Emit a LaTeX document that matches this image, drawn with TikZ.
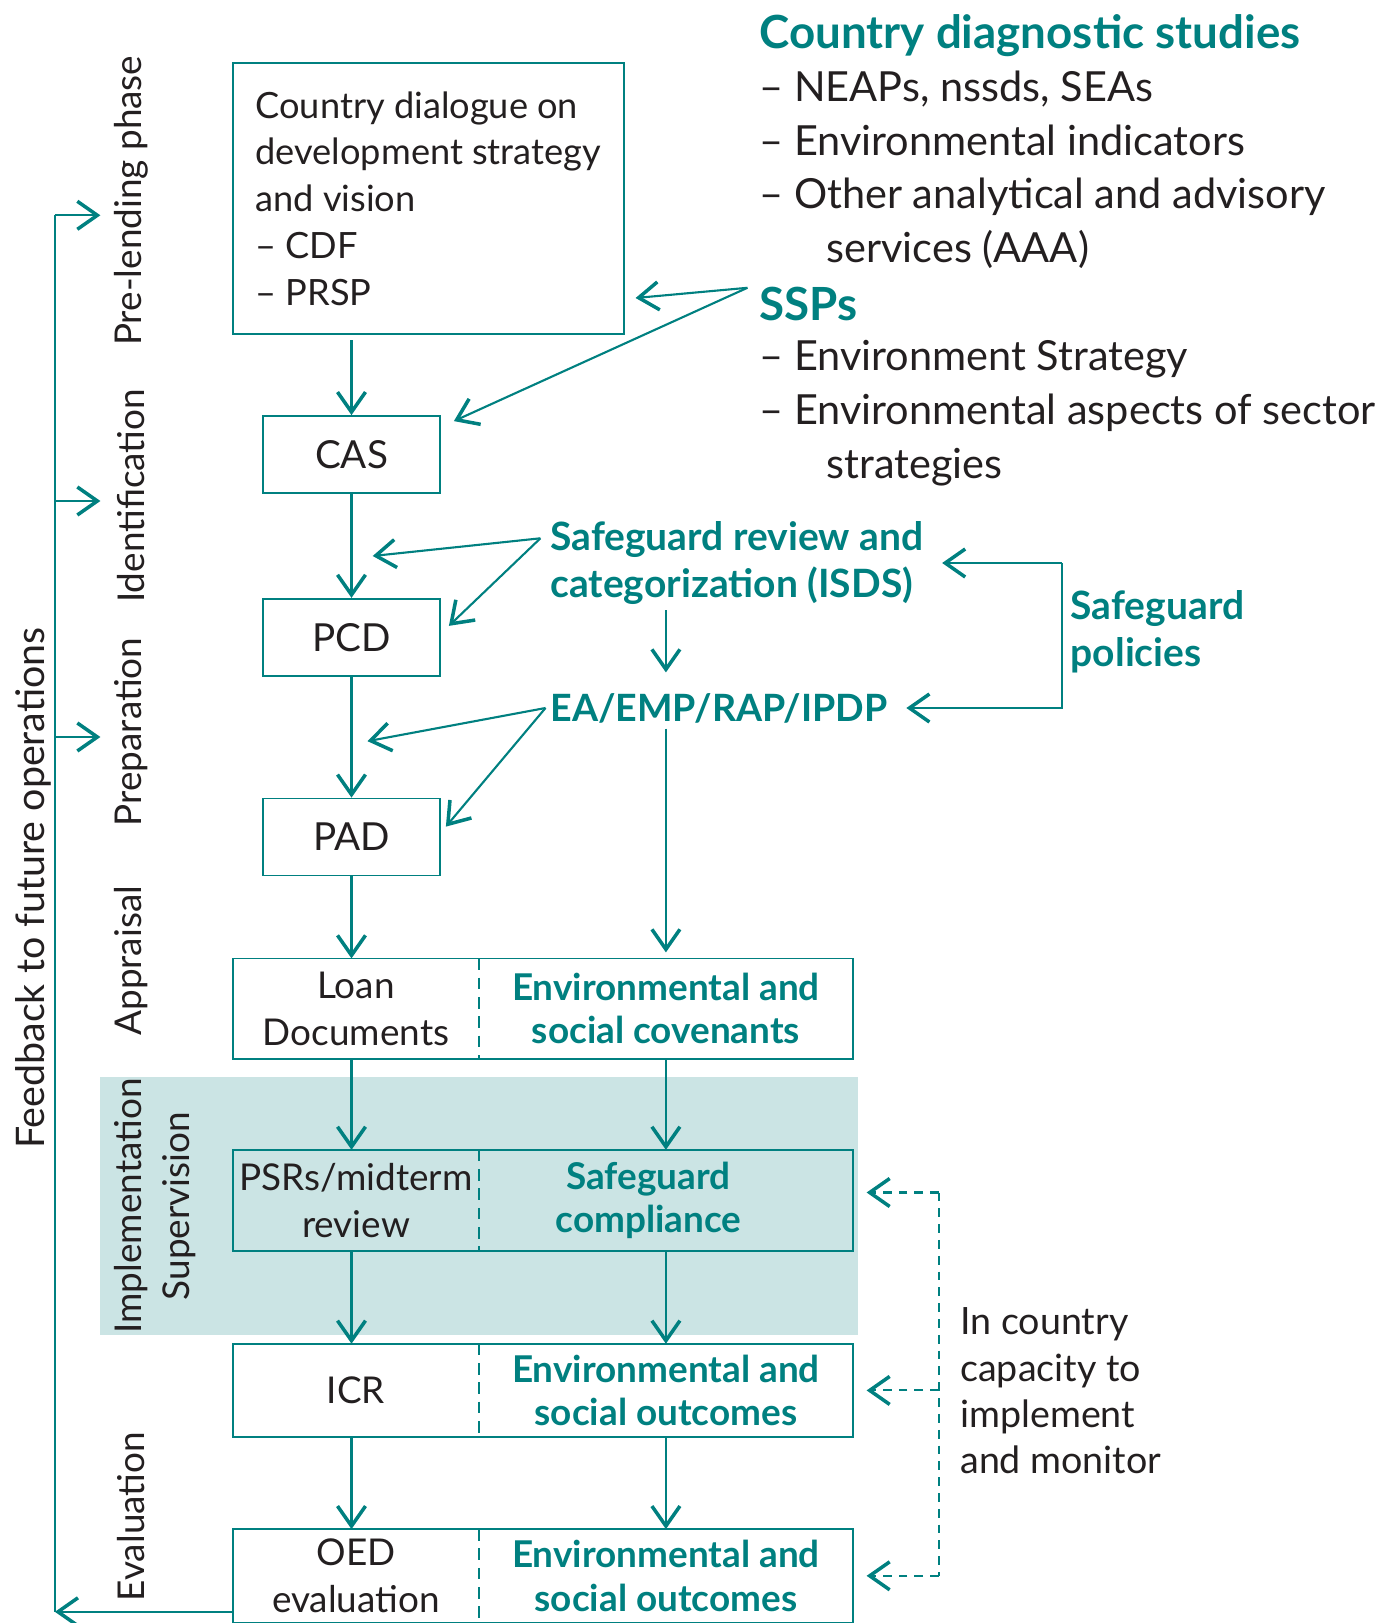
\documentclass[tikz,border=0pt]{standalone}
\usepackage{fontspec}
\setmainfont{Lato}
\usetikzlibrary{
    positioning,
    arrows.meta,
    calc
}
\definecolor{wbteal}{RGB}{0,128,128}
\definecolor{wbband}{RGB}{203,228,228}
\definecolor{wbink}{RGB}{35,31,32}
\tikzset{%
    stage/.style={%
        rectangle,
        draw=wbteal,
        line width=0.5pt,
        inner sep = 2pt,
        minimum width=1.77cm,
        minimum height=0.77cm,
        text=wbink,
        font=\fontsize{11}{13}\selectfont
    },
    dialogue box/.style={%
        stage,
        align=left,
        minimum width=3.91cm,
        minimum height=2.71cm,
        font=\fontsize{10.3}{13.3}\selectfont
    },
    half left/.style={%
        rectangle,
        align=center,
        inner sep = 1pt,
        minimum width=2.44cm,
        text=wbink,
        font=\fontsize{10.5}{13.3}\selectfont
    },
    half right/.style={%
        rectangle,
        align=center,
        inner sep = 1pt,
        minimum width=3.73cm,
        text=wbteal,
        font=\bfseries\fontsize{10.5}{12.4}\selectfont
    },
    frame/.style={%
        draw=wbteal,
        line width=0.5pt
    },
    divider/.style={%
        draw=wbteal,
        line width=0.5pt,
        dash pattern=on 3.3pt off 2.2pt
    },
    feed line/.style={%
        draw=wbteal,
        line width=0.6pt
    },
    arrow/.style={%
        draw=wbteal,
        line width=0.6pt,
        -{Straight Barb[length=2mm,width=2.8mm,line width=1pt]}
    },
    dashed arrow/.style={%
        arrow,
        dash pattern=on 2.5pt off 2pt
    },
    dash line/.style={%
        draw=wbteal,
        line width=0.6pt,
        dash pattern=on 2.5pt off 2pt
    },
    phase/.style={%
        rotate=90,
        inner sep = 0pt,
        text=wbink,
        font=\fontsize{10.5}{12}\selectfont
    },
    head/.style={%
        anchor=west,
        inner sep = 0pt,
        text=wbteal,
        font=\bfseries\fontsize{13}{15}\selectfont
    },
    list/.style={%
        anchor=west,
        align=left,
        inner sep = 0pt,
        text=wbink,
        font=\fontsize{11.8}{15.3}\selectfont
    },
    bold note/.style={%
        anchor=west,
        align=left,
        inner sep = 0pt,
        text=wbteal,
        font=\bfseries\fontsize{11.1}{13.5}\selectfont
    },
    note/.style={%
        anchor=west,
        align=left,
        inner sep = 0pt,
        text=wbink,
        font=\fontsize{10.7}{13.2}\selectfont
    },
}

\begin{document}
\begin{tikzpicture}
    \useasboundingbox (0,0) rectangle (13.81,-16.23);

    % supervision band
    \fill[wbband] (1.004,-10.766) rectangle (8.582,-13.354);

    % phases on the left
    \node[phase] (prelend) at (1.315,-2.008) {Pre-lending phase};
    \node[phase] (ident) at (1.315,-4.959) {Identification};
    \node[phase] (prep) at (1.315,-7.319) {Preparation};
    \node[phase] (apprais) at (1.315,-9.607) {Appraisal};
    \node[phase] (implem) at (1.315,-12.06) {Implementation};
    \node[phase] (superv) at (1.79,-12.06) {Supervision};
    \node[phase] (evalu) at (1.315,-15.166) {Evaluation};
    \node[phase, font=\fontsize{11.2}{13}\selectfont] (feedback) at (0.33,-8.88) {Feedback to future operations};

    % bank process
    \node[dialogue box, anchor=north west] (dialogue) at (2.319,-0.621) {Country dialogue on\\development strategy\\and vision\\-- CDF\\-- PRSP};
    \node[stage] (CAS) at (3.515,-4.545) {CAS};
    \node[stage, below=1.04cm of CAS] (PCD) {PCD};
    \node[stage, below=1.21cm of PCD] (PAD) {PAD};

    \node[half left, minimum height=0.99cm, below=0.82cm of PAD, xshift=0.045cm] (loan) {Loan\\Documents};
    \node[half right, minimum height=0.99cm, right=0pt of loan] (cov) {Environmental and\\social covenants};
    \node[half left, minimum height=1.0cm, below=0.91cm of loan] (psr) {PSRs/midterm\\review};
    \node[half right, minimum height=1.0cm, right=0pt of psr] (comply) {Safeguard\hspace*{0.35cm}\\compliance\hspace*{0.35cm}};
    \node[half left, minimum height=0.92cm, below=0.925cm of psr] (icr) {ICR};
    \node[half right, minimum height=0.92cm, right=0pt of icr] (outc) {Environmental and\\social outcomes};
    \node[half left, minimum height=0.92cm, below=0.92cm of icr] (oed) {OED\\evaluation};
    \node[half right, minimum height=0.92cm, right=0pt of oed] (outcb) {Environmental and\\social outcomes};

    \draw[frame] (loan.north west) rectangle (cov.south east);
    \draw[divider] (loan.north east) -- (loan.south east);
    \draw[frame] (psr.north west) rectangle (comply.south east);
    \draw[divider] (psr.north east) -- (psr.south east);
    \draw[frame] (icr.north west) rectangle (outc.south east);
    \draw[divider] (icr.north east) -- (icr.south east);
    \draw[frame] (oed.north west) rectangle (outcb.south east);
    \draw[divider] (oed.north east) -- (oed.south east);

    % studies and strategies
    \node[head] (diag) at (7.588,-0.352) {Country diagnostic studies};
    \node[list] (diaglist) at (7.588,-1.698) {-- NEAPs, nssds, SEAs\\-- Environmental indicators\\-- Other analytical and advisory\\\hspace*{0.67cm}services (AAA)};
    \node[head] (ssps) at (7.588,-3.043) {SSPs};
    \node[list] (sspslist) at (7.588,-4.13) {-- Environment Strategy\\-- Environmental aspects of sector\\\hspace*{0.67cm}strategies};

    \node[bold note] (sgreview) at (5.497,-5.63) {Safeguard review and\\categorization (ISDS)};
    \node[bold note, font=\bfseries\fontsize{10.7}{13.5}\selectfont] (eaemp) at (5.497,-7.08) {EA/EMP/RAP/IPDP};
    \node[bold note] (sgpol) at (10.70,-6.315) {Safeguard\\policies};
    \node[note] (capacity) at (9.596,-13.91) {In country\\capacity to\\implement\\and monitor};

    % free ends
    \coordinate (sspsfrom) at (7.474,-2.878);
    \coordinate (dlgtip) at (6.356,-2.98);
    \coordinate (castip) at ($(CAS.north east)+(0.13,-0.06)$);
    \coordinate (sgfrom) at (5.404,-5.383);
    \coordinate (sgtipa) at (3.727,-5.56);
    \coordinate (sgtipb) at ($(PCD.north east)+(0.08,-0.28)$);
    \coordinate (eafrom) at (5.455,-7.08);
    \coordinate (eatipa) at (3.675,-7.412);
    \coordinate (eatipb) at ($(PAD.north east)+(0.05,-0.29)$);
    \coordinate (polbar) at ($(sgpol.west)+(-0.08,0)$);
    \coordinate (capbar) at ($(capacity.west)+(-0.206,0)$);
    \coordinate (comptip) at ($(comply.east)+(0.135,0.08)$);
    \coordinate (fbcorner) at (0.549,-16.118);
    \coordinate (pretip) at (1.004,-2.153);
    \coordinate (idtip) at (1.004,-5.01);
    \coordinate (preptip) at (1.004,-7.37);

    % main flow
    \draw[arrow, shorten <=1.5pt] (dialogue.south -| CAS) -- (CAS);
    \draw[arrow] (CAS) -- (PCD);
    \draw[arrow] (PCD) -- (PAD);
    \draw[arrow] (PAD) -- (PAD |- loan.north);
    \draw[arrow] (PAD |- loan.south) -- (PAD |- psr.north);
    \draw[arrow] (PAD |- psr.south) -- (PAD |- icr.north);
    \draw[arrow] (PAD |- icr.south) -- (PAD |- oed.north);

    \draw[arrow] ($(sgreview.south -| cov)+(0,-0.05)$) -- ($(eaemp.north -| cov)+(0,0.2)$);
    \draw[arrow] ($(eaemp.south -| cov)+(0,-0.05)$) -- ($(cov.north)+(0,0.06)$);
    \draw[arrow] (cov) -- (comply);
    \draw[arrow] (comply) -- (outc);
    \draw[arrow] (outc) -- (outcb);

    % inputs
    \draw[arrow] (sspsfrom) -- (dlgtip);
    \draw[arrow] (sspsfrom) -- (castip);
    \draw[arrow] (sgfrom) -- (sgtipa);
    \draw[arrow] (sgfrom) -- (sgtipb);
    \draw[arrow] (eafrom) -- (eatipa);
    \draw[arrow] (eafrom) -- (eatipb);

    \draw[arrow] (polbar |- sgreview.east) -- ($(sgreview.east)+(0.18,0)$);
    \draw[arrow] (polbar |- sgreview.east) -- (polbar |- eaemp.east) -- ($(eaemp.east)+(0.18,0)$);

    % capacity
    \draw[dash line] (capbar |- comptip) -- (capbar |- outcb.east);
    \draw[dashed arrow] (capbar |- comptip) -- (comptip);
    \draw[dashed arrow] (capbar |- outc.east) -- ($(outc.east)+(0.135,0)$);
    \draw[dashed arrow] (capbar |- outcb.east) -- ($(outcb.east)+(0.135,0)$);

    % feedback
    \draw[arrow] (oed.west |- fbcorner) -- (fbcorner);
    \draw[feed line] (fbcorner) -- (fbcorner |- pretip);
    \draw[arrow] (fbcorner |- pretip) -- (pretip);
    \draw[arrow] (fbcorner |- idtip) -- (idtip);
    \draw[arrow] (fbcorner |- preptip) -- (preptip);
\end{tikzpicture}
\end{document}
